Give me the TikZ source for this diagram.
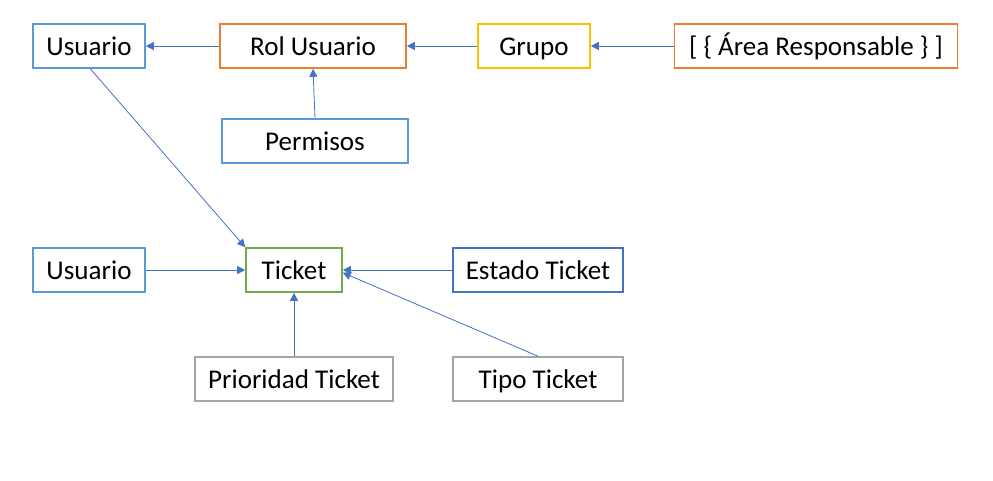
\documentclass[tikz,border=0pt]{standalone}
\usepackage{fontspec}
\setmainfont{Carlito}
\usetikzlibrary{positioning,arrows.meta}

\definecolor{azulclaro}{HTML}{5B9BD5}
\definecolor{azul}{HTML}{4472C4}
\definecolor{naranja}{HTML}{ED7D31}
\definecolor{amarillo}{HTML}{FFC000}
\definecolor{verde}{HTML}{70AD47}
\definecolor{gris}{HTML}{A5A5A5}

\begin{document}
\begin{tikzpicture}[on grid, auto,
		caja/.style={draw=#1, line width=1.2pt, minimum height=33pt, inner sep=0pt, text height=17pt, text depth=3pt, text=black, font=\fontsize{20.3}{24}\selectfont},
		flecha/.style={-{Triangle[length=6pt,width=6pt]}, azul, line width=0.6pt}]
		\useasboundingbox (0,0) rectangle (744.75pt,-360pt);
		\node[caja=azulclaro, minimum width=84pt] (usr1) at (66.75pt,-34.5pt) {Usuario};
		\node[caja=naranja, minimum width=139.5pt] (rol) [right=168pt of usr1] {Rol Usuario};
		\node[caja=amarillo, minimum width=84pt] (grupo) [right=165.75pt of rol] {Grupo};
		\node[caja=naranja, minimum width=212.25pt] (area) [right=211.5pt of grupo] {[ \{ Área Responsable \} ]};
		\node[caja=azulclaro, minimum width=139.5pt] (perm) [below=71.25pt of rol, xshift=1.5pt] {Permisos};
		
		\node[caja=azulclaro, minimum width=84pt] (usr2) [below=168pt of usr1] {Usuario};
		\node[caja=verde, minimum width=72pt] (ticket) [right=153.75pt of usr2] {Ticket};
		\node[caja=azul, minimum width=127.5pt] (estado) [right=183pt of ticket] {Estado Ticket};
		\node[caja=gris, minimum width=148.5pt] (prio) [below=81.75pt of ticket] {Prioridad Ticket};
		\node[caja=gris, minimum width=127.5pt] (tipo) [below=81.75pt of estado] {Tipo Ticket};
		
		\draw[flecha] (rol) -- (usr1);
		\draw[flecha] (grupo) -- (rol);
		\draw[flecha] (area) -- (grupo);
		\draw[flecha] (perm.north) -- (rol.south);
		\draw[flecha] ([xshift=1pt]usr1.south) -- (ticket.north west);
		\draw[flecha] (usr2) -- (ticket);
		\draw[flecha] (estado) -- (ticket);
		\draw[flecha] (prio) -- (ticket);
		\draw[flecha] (tipo.north) -- ([yshift=-2pt]ticket.east);
	\end{tikzpicture}
\end{document}
